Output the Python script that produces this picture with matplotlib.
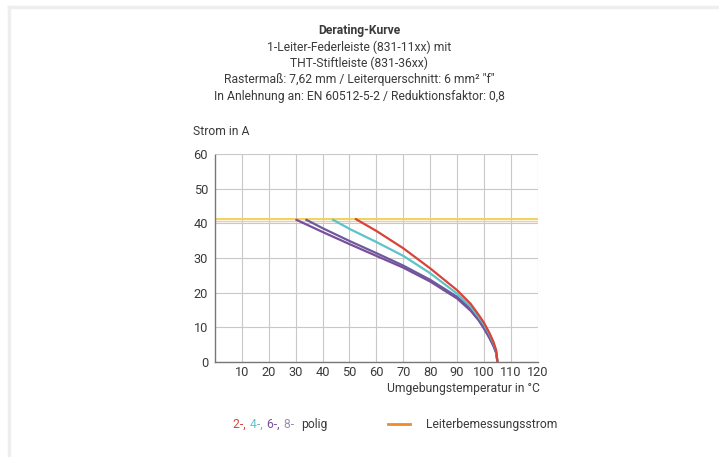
import matplotlib
matplotlib.use("Agg")
import matplotlib.pyplot as plt
from matplotlib.lines import Line2D

plt.rcParams['font.family'] = ['Roboto', 'DejaVu Sans']

# curve data (temperature in degC, current in A)
t_2pol = [52.4, 60, 70, 80, 90, 95, 98, 100, 102, 103.5, 104.5, 105]
i_2pol = [41.2, 37.8, 32.8, 27.0, 20.7, 16.8, 13.6, 11.3, 8.4, 5.8, 3.4, 0]
t_4pol = [43.9, 50, 60, 70, 80, 90, 95, 98, 100, 102, 103.5, 104.5, 105]
i_4pol = [41.0, 38.4, 34.6, 30.6, 25.6, 19.7, 16.0, 13.0, 10.8, 8.0, 5.5, 3.2, 0]
t_6pol = [30.3, 40, 50, 60, 70, 80, 90, 95, 98, 100, 102, 103.5, 104.5, 105]
i_6pol = [41.0, 37.5, 34.0, 30.6, 27.2, 23.2, 18.3, 14.8, 12.0, 9.6, 6.9, 4.6, 2.6, 0]
t_8pol = [34.0, 40, 50, 60, 70, 80, 90, 95, 98, 100, 102, 103.5, 104.5, 105]
i_8pol = [41.0, 38.6, 34.9, 31.4, 27.8, 23.7, 18.8, 15.3, 12.5, 10.0, 7.2, 4.8, 2.8, 0]
rated_current = 41.3

xticks = [10, 20, 30, 40, 50, 60, 70, 80, 90, 100, 110, 120]
yticks = [0, 10, 20, 30, 40, 50, 60]

title_lines = ["Derating-Kurve",
               "1-Leiter-Federleiste (831-11xx) mit",
               "THT-Stiftleiste (831-36xx)",
               "Rastermaß: 7,62 mm / Leiterquerschnitt: 6 mm² \"f\"",
               "In Anlehnung an: EN 60512-5-2 / Reduktionsfaktor: 0,8"]

c_red = "#d8433a"
c_cyan = "#5cc3c9"
c_purple = "#7a4e9a"
c_purple2 = "#6b5a9e"
c_text = "#3a3a3a"
fs = 8.7

fig = plt.figure(figsize=(7.19, 4.57), dpi=100)
ax = fig.add_axes([0.299, 0.208, 0.449, 0.455])

ax.axhline(rated_current, color="#f2d25a", lw=1.4, zorder=2)
ax.axhline(rated_current - 0.7, color="#f5c9a0", lw=1.0, zorder=2)
ax.plot(t_6pol, i_6pol, color=c_purple, lw=1.6, zorder=3)
ax.plot(t_8pol, i_8pol, color=c_purple2, lw=1.6, zorder=3)
ax.plot(t_4pol, i_4pol, color=c_cyan, lw=1.6, zorder=4)
ax.plot(t_2pol, i_2pol, color=c_red, lw=1.6, zorder=5)

ax.set_xlim(0, 120)
ax.set_ylim(0, 60)
ax.set_xticks(xticks)
ax.set_yticks(yticks)
ax.grid(True, color="#c8c8c8", lw=0.8)
ax.set_axisbelow(True)
for s in ["top", "right"]:
    ax.spines[s].set_visible(False)
for s in ["left", "bottom"]:
    ax.spines[s].set_color("#777777")
    ax.spines[s].set_linestyle((0, (2, 1)))
    ax.spines[s].set_linewidth(1.0)
ax.tick_params(length=0, labelsize=fs + 0.5, labelcolor=c_text)
ax.tick_params(axis="x", pad=3)
ax.tick_params(axis="y", pad=5)

fig.text(0.268, 0.712, "Strom in A", fontsize=fs, color=c_text, ha="left", va="center")
fig.text(0.751, 0.150, "Umgebungstemperatur in °C", fontsize=fs, color=c_text,
         ha="right", va="center")

ty = [0.934, 0.897, 0.861, 0.825, 0.788]
for i, line in enumerate(title_lines):
    fig.text(0.5, ty[i], line, fontsize=fs, color=c_text, ha="center", va="center",
             fontweight="bold" if i == 0 else "normal")

# legend row
leg_y = 0.072
parts = [("2-, ", c_red), ("4-, ", c_cyan), ("6-, ", c_purple), ("8-  ", "#9a8cb0"), ("polig", c_text)]
xpos = 0.324
r = fig.canvas.get_renderer()
for txt, col in parts:
    t = fig.text(xpos, leg_y, txt, fontsize=fs, color=col, ha="left", va="center")
    bb = t.get_window_extent(renderer=r)
    xpos += bb.width / fig.bbox.width + 0.002
fig.add_artist(Line2D([0.540, 0.570], [leg_y, leg_y], color="#f08a30", lw=2))
fig.text(0.593, leg_y, "Leiterbemessungsstrom", fontsize=fs, color=c_text,
         ha="left", va="center")

# faint frame at top and left
fig.add_artist(Line2D([0.012, 1.0], [0.985, 0.985], color="#eeeeee", lw=2.5))
fig.add_artist(Line2D([0.012, 0.012], [0.0, 0.985], color="#eeeeee", lw=2.5))

fig.savefig("out.png", dpi=100)
